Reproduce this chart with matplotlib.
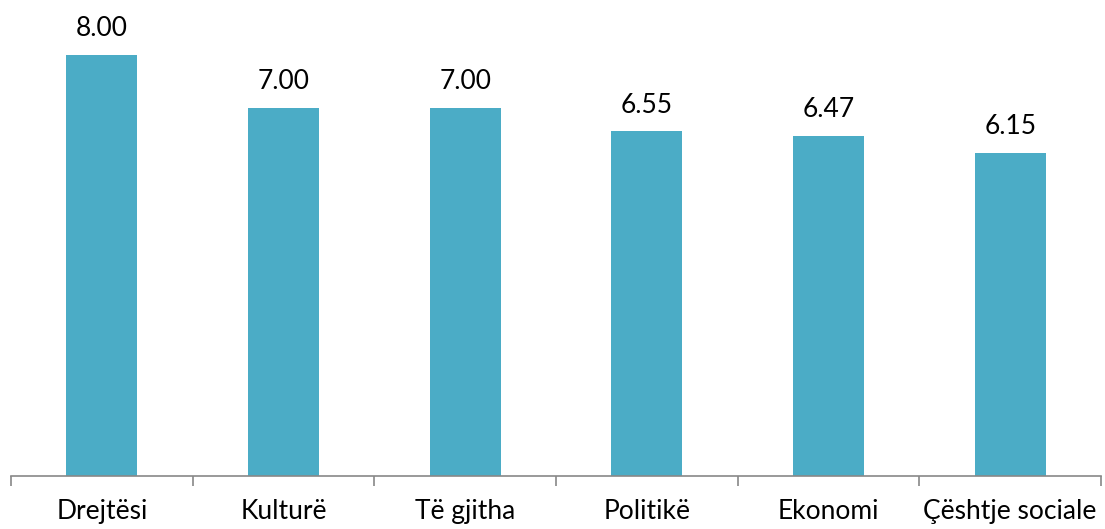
import matplotlib.pyplot as plt

kategori = ["Drejtësi", "Kulturë", "Të gjitha", "Politikë", "Ekonomi", "Çështje sociale"]
nilai = [8.00, 7.00, 7.00, 6.55, 6.47, 6.15]

plt.rcParams['font.family'] = ['Lato', 'DejaVu Sans']

fig = plt.figure(figsize=(11.05, 5.29), dpi=100)
ax = fig.add_axes([11 / 1105, 53 / 529, 1090 / 1105, 476 / 529])

x = range(len(kategori))
ax.bar(x, nilai, width=0.39, color="#4BACC6")
for i, v in enumerate(nilai):
    ax.annotate("%.2f" % v, (i, v), xytext=(0, 10), textcoords="offset points",
                ha="center", va="bottom", fontsize=19)

ax.set_xlim(-0.5, len(kategori) - 0.5)
ax.set_ylim(0, 9.05)
ax.set_xticks([i - 0.5 for i in range(len(kategori) + 1)])
ax.set_xticklabels([])
ax.set_xticks(list(x), kategori, minor=True)
ax.tick_params(axis="x", which="major", length=7, width=1.2, color="#888888", direction="out")
ax.tick_params(axis="x", which="minor", length=0, labelsize=19, pad=16.5)
ax.set_yticks([])
for s in ["top", "right", "left"]:
    ax.spines[s].set_visible(False)
ax.spines["bottom"].set_color("#888888")
ax.spines["bottom"].set_linewidth(1.2)

fig.savefig("out.png", dpi=100)
